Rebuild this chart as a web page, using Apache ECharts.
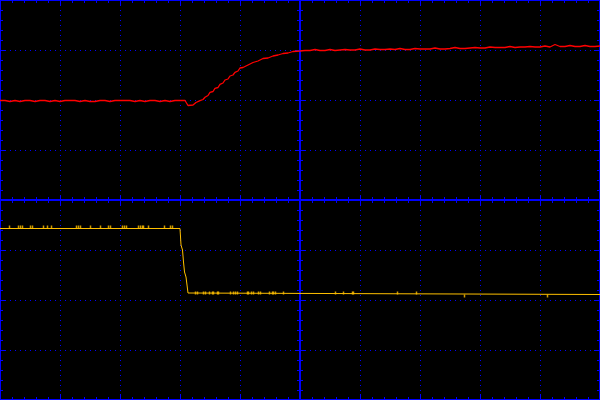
<!DOCTYPE html>
<html><head><meta charset="utf-8">
<script src="https://cdn.jsdelivr.net/npm/echarts@6/dist/echarts.min.js"></script>
<style>html,body{margin:0;padding:0;background:#000}#c{width:600px;height:400px}</style>
</head><body><div id="c"></div>
<script>
// Time axis: -300..300 (1 division = 60), level axis: -200..200 (1 division = 50)
const xTicks = {min: -300, max: 300, interval: 60};
const yTicks = {min: -200, max: 200, interval: 50};

// Channel 1 (red)
const redTrace = [
  [-300,99.5],[-295,99.5],[-290,98.5],[-285,99.5],[-280,98.5],[-275,99.5],[-270,99.5],[-265,98.5],
  [-260,99.5],[-255,99.5],[-250,98.5],[-245,99.5],[-240,98.5],[-235,99.5],[-230,99.5],[-225,99.5],
  [-220,98.5],[-215,99.5],[-210,98.5],[-205,98.5],[-200,99.5],[-195,99.5],[-190,98.5],[-185,99.5],
  [-180,99.5],[-175,99.5],[-170,99.5],[-165,98.5],[-160,99.5],[-155,98.5],[-150,99.5],[-145,99.5],
  [-140,98.5],[-135,99.5],[-130,98.5],[-125,99.5],[-120,99.5],[-115,99.5],
  [-114,99.5],[-112,94.5],[-110,93],[-107,95],[-104,97.5],[-100,99.3],[-97,100.5],[-95,102.7],
  [-92,104.5],[-90,107.7],[-87,108.5],[-85,111.7],[-82,112.5],[-80,115.7],[-77,117],[-75,120],
  [-72,121],[-70,124],[-67,125],[-65,127.7],[-62,129],[-60,132],[-57,132.5],[-55,134.5],
  [-52,135],[-50,136.7],[-47,137.5],[-45,138.8],[-42,139],[-40,140.2],[-37,141.5],[-35,141.6],
  [-32,142],[-30,143],[-27,144],[-25,144.3],[-22,145],[-20,145.7],[-17,146.5],[-15,146.7],
  [-12,147],[-10,147.7],[-7,148.5],[-5,148.3],[0,149],
  [5,149.5],[10,149.5],[15,150.5],[20,149.5],[25,149.5],[30,150.5],[35,149.5],[40,150],
  [45,150.5],[50,150],[55,150],[60,151],[65,150],[70,150],[75,151],[80,150.5],
  [85,150.5],[90,151],[95,150.5],[100,151.5],[105,150.5],[110,150.5],[115,151.5],[120,151],
  [125,151],[130,151],[135,152],[140,151],[145,151],[150,151.5],[155,152.5],[160,151.5],
  [165,151.5],[170,152],[175,152.5],[180,152],[185,152],[190,153],[195,152.5],[200,152.5],
  [205,152.5],[210,153.5],[215,152.5],[220,153],[225,153],[230,153.5],[235,153],[240,153],
  [245,154],[250,153],[255,155.5],[260,153.5],[265,153.5],[270,154.5],[275,153.5],[280,153.5],
  [285,154.5],[290,153.5],[295,153.5],[300,154]
];

// Channel 2 (yellow)
const yellowTrace = [
  [-300,-28.5],[-120,-28.5],[-119,-45],[-117.5,-50],[-116.5,-62],[-115.5,-72],[-114,-77],
  [-113,-85],[-112,-93],[-111,-94.5],[300,-94.5]
];
const yellowGlitchHigh = [-290.5,-281.5,-279.5,-277.5,-269.5,-267.5,-256.5,-252.5,-248.5,-223.5,
  -221.5,-219.5,-209.5,-199.5,-191.5,-189.5,-177.5,-175.5,-173.5,-161.5,-159.5,-157.5,-156.5,
  -151.5,-135.5,-129.5,-127.5];
const yellowGlitchLow = [-104.5,-102.5,-96.5,-94.5,-90.5,-87.5,-86.5,-82.5,-81.5,-69.5,-66.5,
  -64.5,-62.5,-52.5,-51.5,-48.5,-46.5,-41.5,-39.5,-30.5,-27.5,-26.5,-24.5,-16.5,35.5,43.5,52.5,
  53.5,97.5,116.5];
const yellowGlitchDown = [164.5,247.5];
const glitchLevels = {high: -27, low: -93, down: -96};

const BLUE = '#0000ff';
const RED = '#ff0000';
const YEL = '#ffc000';

function axis(base, pos, opts) {
  return Object.assign({
    type: 'value', min: base.min, max: base.max, interval: base.interval, position: pos,
    axisLabel: {show: false}, splitLine: {show: false}
  }, opts);
}
function border(base, pos, split) {
  return axis(base, pos, {
    axisLine: {show: true, onZero: false, lineStyle: {color: BLUE, width: 2}},
    axisTick: {show: true, inside: true, length: 6, lineStyle: {color: BLUE, width: 1}},
    minorTick: {show: true, splitNumber: 5, length: 3, lineStyle: {color: BLUE, width: 1}},
    splitLine: {show: split, lineStyle: {color: BLUE, width: 1, type: [1, 4]}}
  });
}
function center(base, pos, inside) {
  return axis(base, pos, {
    axisLine: {show: true, onZero: true, onZeroAxisIndex: 0, lineStyle: {color: BLUE, width: 2}},
    axisTick: {show: true, inside: inside, length: 5, lineStyle: {color: BLUE, width: 1}},
    minorTick: {show: true, splitNumber: 5, length: 3, lineStyle: {color: BLUE, width: 1}}
  });
}

const glitchData = []
  .concat(yellowGlitchHigh.map(t => [t, glitchLevels.high]))
  .concat(yellowGlitchLow.map(t => [t, glitchLevels.low]))
  .concat(yellowGlitchDown.map(t => [t, glitchLevels.down]));

const chart = echarts.init(document.getElementById('c'), null, {renderer: 'canvas'});
chart.setOption({
  backgroundColor: '#000',
  animation: false,
  grid: {left: 0, right: 0, top: 0, bottom: 0, containLabel: false},
  xAxis: [
    border(xTicks, 'bottom', true),
    border(xTicks, 'top', false),
    center(xTicks, 'bottom', true),
    center(xTicks, 'bottom', false)
  ],
  yAxis: [
    border(yTicks, 'left', true),
    border(yTicks, 'right', false),
    center(yTicks, 'left', true),
    center(yTicks, 'left', false)
  ],
  series: [
    {type: 'line', data: redTrace, xAxisIndex: 0, yAxisIndex: 0,
     showSymbol: false, silent: true, lineStyle: {color: RED, width: 1.3}, z: 5},
    {type: 'line', data: yellowTrace, xAxisIndex: 0, yAxisIndex: 0,
     showSymbol: false, silent: true, lineStyle: {color: YEL, width: 1}, z: 5},
    {type: 'scatter', data: glitchData, xAxisIndex: 0, yAxisIndex: 0, symbol: 'rect',
     symbolSize: [1.5, 3], silent: true, itemStyle: {color: YEL}, z: 5}
  ]
});
</script>
</body></html>
